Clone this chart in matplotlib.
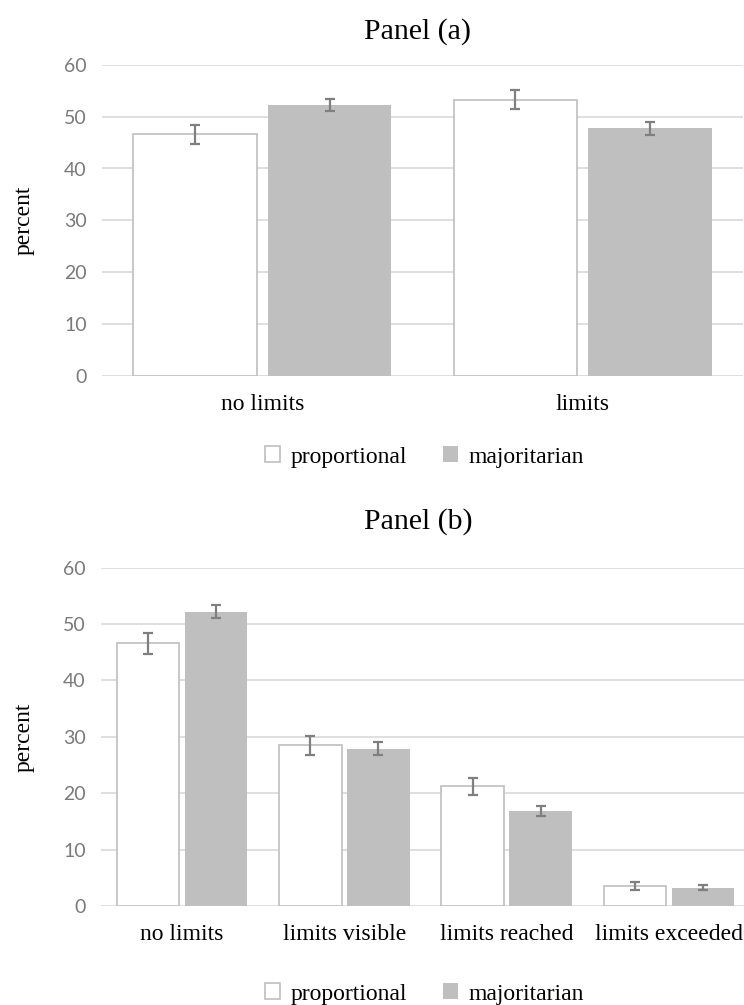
import matplotlib
matplotlib.use("Agg")
import matplotlib.pyplot as plt
from matplotlib.patches import Patch
import numpy as np

# ---- data ----
series = ["proportional", "majoritarian"]

cats_a = ["no limits", "limits"]
prop_a = [46.6, 53.3]
prop_a_err = [1.9, 1.85]
maj_a = [52.3, 47.8]
maj_a_err = [1.2, 1.25]

cats_b = ["no limits", "limits visible", "limits reached", "limits exceeded"]
prop_b = [46.6, 28.5, 21.2, 3.6]
prop_b_err = [1.9, 1.7, 1.55, 0.7]
maj_b = [52.2, 27.9, 16.9, 3.2]
maj_b_err = [1.2, 1.15, 0.9, 0.45]

yticks = [0, 10, 20, 30, 40, 50, 60]

# ---- style ----
SERIF = ["Liberation Serif", "DejaVu Serif"]
SANS = ["Lato", "DejaVu Sans"]
GRID = "#d9d9d9"
EDGE = "#bfbfbf"
FILL = "#bfbfbf"
ERRC = "#7f7f7f"
TICKC = "#7a7a7a"

W, H = 744, 1005
fig = plt.figure(figsize=(W / 100, H / 100), dpi=100)


def px_axes(left, right, top, bottom):
    return fig.add_axes([left / W, 1 - bottom / H, (right - left) / W, (bottom - top) / H])


def draw_panel(ax, cats, prop, prop_err, maj, maj_err):
    x = np.arange(len(cats))
    width = 0.385
    off = 0.21
    ek = dict(ecolor=ERRC, elinewidth=1.6, capsize=3.8, capthick=1.6)
    ax.bar(x - off, prop, width, color="white", edgecolor=EDGE, linewidth=1.2,
           yerr=prop_err, error_kw=ek, zorder=3)
    ax.bar(x + off, maj, width, color=FILL, edgecolor="none", linewidth=0,
           yerr=maj_err, error_kw=ek, zorder=3)
    ax.set_xlim(-0.5, len(cats) - 0.5)
    ax.set_ylim(0, 60)
    ax.set_yticks(yticks)
    ax.set_yticklabels([str(v) for v in yticks], family=SANS, fontsize=14, color=TICKC)
    ax.set_xticks(x)
    ax.set_xticklabels(cats, family=SERIF, fontsize=17, color="black")
    ax.tick_params(axis="both", length=0)
    ax.tick_params(axis="y", pad=11)
    ax.tick_params(axis="x", pad=13)
    for s in ax.spines.values():
        s.set_visible(False)
    ax.yaxis.grid(True, color=GRID, linewidth=1.2, zorder=0)
    ax.set_axisbelow(True)


ax_a = px_axes(102, 743, 65, 375.5)
draw_panel(ax_a, cats_a, prop_a, prop_a_err, maj_a, maj_a_err)
ax_b = px_axes(101, 750, 567.7, 906)
draw_panel(ax_b, cats_b, prop_b, prop_b_err, maj_b, maj_b_err)

fig.text(418 / W, 1 - 32 / H, "Panel (a)", family=SERIF, fontsize=21.5,
         ha="center", va="center")
fig.text(418 / W, 1 - 522 / H, "Panel (b)", family=SERIF, fontsize=21.5,
         ha="center", va="center")

for yc in [(65 + 375.5) / 2, (567.7 + 906) / 2]:
    fig.text(24 / W, 1 - yc / H, "percent", family=SERIF, fontsize=17,
             rotation=90, ha="center", va="center")

handles = [Patch(facecolor="white", edgecolor=EDGE, linewidth=1.2, label=series[0]),
           Patch(facecolor=FILL, edgecolor="none", label=series[1])]

for yc in [457, 994]:
    fig.legend(handles=handles, loc="center", bbox_to_anchor=(424.5 / W, 1 - yc / H),
               ncol=2, frameon=False, prop=dict(family=SERIF, size=17),
               handlelength=0.64, handleheight=0.64, handletextpad=0.45,
               columnspacing=1.5, borderpad=0)

fig.savefig("out.png", dpi=100)
